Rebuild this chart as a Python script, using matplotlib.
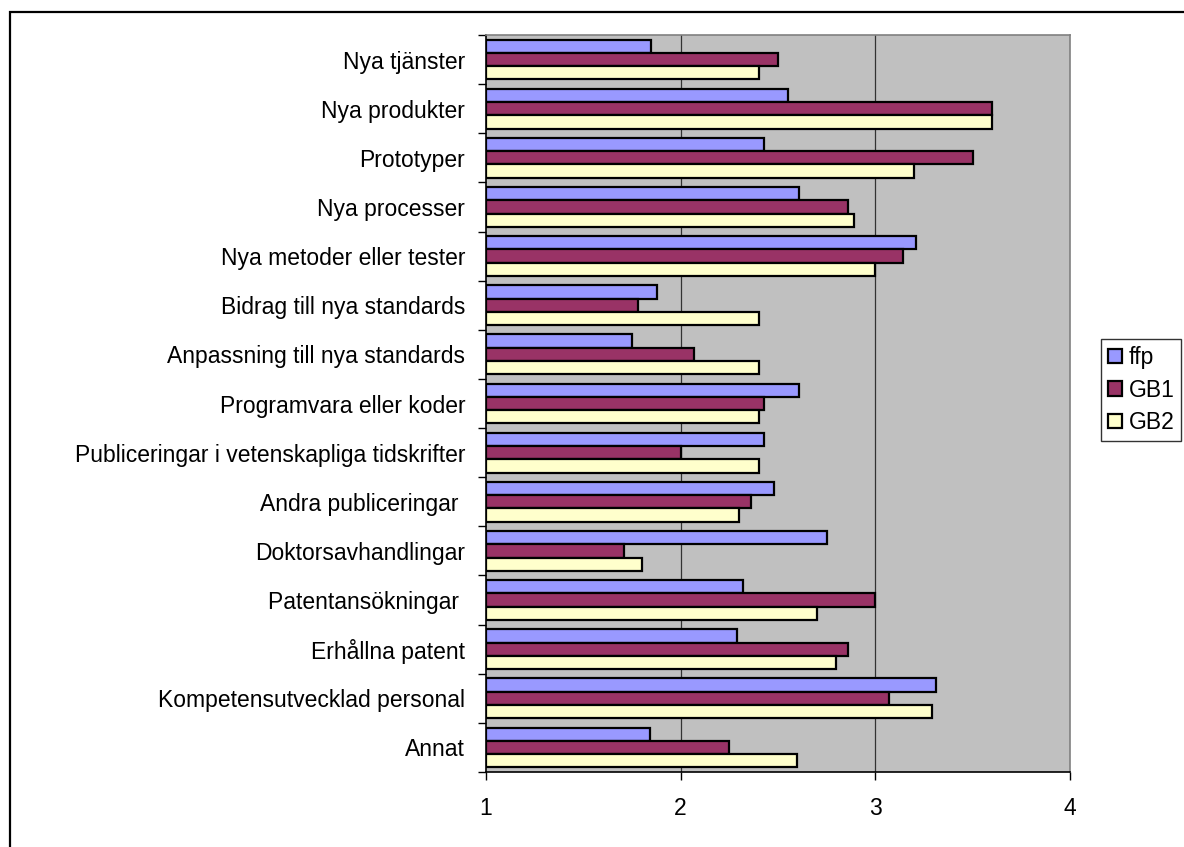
import numpy as np
import matplotlib.pyplot as plt
from matplotlib.patches import Rectangle

plt.rcParams['font.family'] = ['Liberation Sans', 'DejaVu Sans']

# Output categories, top to bottom
categories = [
    'Nya tjänster',
    'Nya produkter',
    'Prototyper',
    'Nya processer',
    'Nya metoder eller tester',
    'Bidrag till nya standards',
    'Anpassning till nya standards',
    'Programvara eller koder',
    'Publiceringar i vetenskapliga tidskrifter',
    'Andra publiceringar ',
    'Doktorsavhandlingar',
    'Patentansökningar ',
    'Erhållna patent',
    'Kompetensutvecklad personal',
    'Annat',
]

ffp = [1.85, 2.55, 2.43, 2.61, 3.21, 1.88, 1.75, 2.61, 2.43, 2.48, 2.75, 2.32, 2.29, 3.31, 1.84]
gb1 = [2.50, 3.60, 3.50, 2.86, 3.14, 1.78, 2.07, 2.43, 2.00, 2.36, 1.71, 3.00, 2.86, 3.07, 2.25]
gb2 = [2.40, 3.60, 3.20, 2.89, 3.00, 2.40, 2.40, 2.40, 2.40, 2.30, 1.80, 2.70, 2.80, 3.29, 2.60]

series_names = ['ffp', 'GB1', 'GB2']
series_colors = ['#9999FF', '#993366', '#FFFFCC']
x_ticks = [1, 2, 3, 4]

fs = 16.5

fig = plt.figure(figsize=(11.84, 8.47), dpi=100)
ax = fig.add_axes([486 / 1184, 1 - 772 / 847, (1070 - 486) / 1184, (772 - 35) / 847])

n = len(categories)
y = np.arange(n)
bar_h = 0.27
base = 1.0
for k, (vals, name, col) in enumerate(zip([ffp, gb1, gb2], series_names, series_colors)):
    offs = (k - 1) * bar_h
    ax.barh(y + offs, np.array(vals) - base, left=base, height=bar_h,
            color=col, edgecolor='black', linewidth=1.6, label=name, zorder=3)

ax.set_facecolor('#C0C0C0')
ax.set_xlim(1, 4)
ax.set_ylim(n - 0.5, -0.5)
ax.set_xticks(x_ticks)
ax.set_xticklabels([str(t) for t in x_ticks], fontsize=fs)
for xv in x_ticks[1:-1]:
    ax.axvline(xv, color='#333333', linewidth=0.9, zorder=1)

# category labels at centres, tick marks between categories
ax.set_yticks(y)
ax.set_yticklabels(categories, fontsize=fs)
ax.tick_params(axis='y', length=0, pad=15)
ax.set_yticks(np.arange(-0.5, n, 1.0), minor=True)
ax.tick_params(axis='y', which='minor', length=6, width=1, color='black', direction='out')
ax.tick_params(axis='x', length=6, width=1, direction='out', pad=12)

for side in ['top', 'right']:
    ax.spines[side].set_color('#808080')
    ax.spines[side].set_linewidth(1.2)
for side in ['left', 'bottom']:
    ax.spines[side].set_color('black')
    ax.spines[side].set_linewidth(1.2)

leg = ax.legend(loc='upper left', bbox_to_anchor=(1101 / 1184, 1 - 339 / 847),
                bbox_transform=fig.transFigure, frameon=True, fancybox=False,
                fontsize=fs, handlelength=0.6, handleheight=0.6, handletextpad=0.3,
                borderpad=0.3, labelspacing=0.42, borderaxespad=0)
leg.get_frame().set_edgecolor('black')
leg.get_frame().set_linewidth(1.0)

# outer chart border
fig.patches.append(Rectangle((10 / 1184, -0.01), 1.1, 1 - 12 / 847 + 0.01,
                             transform=fig.transFigure, fill=False,
                             edgecolor='black', linewidth=1.6))

fig.savefig('out.png', dpi=100)
